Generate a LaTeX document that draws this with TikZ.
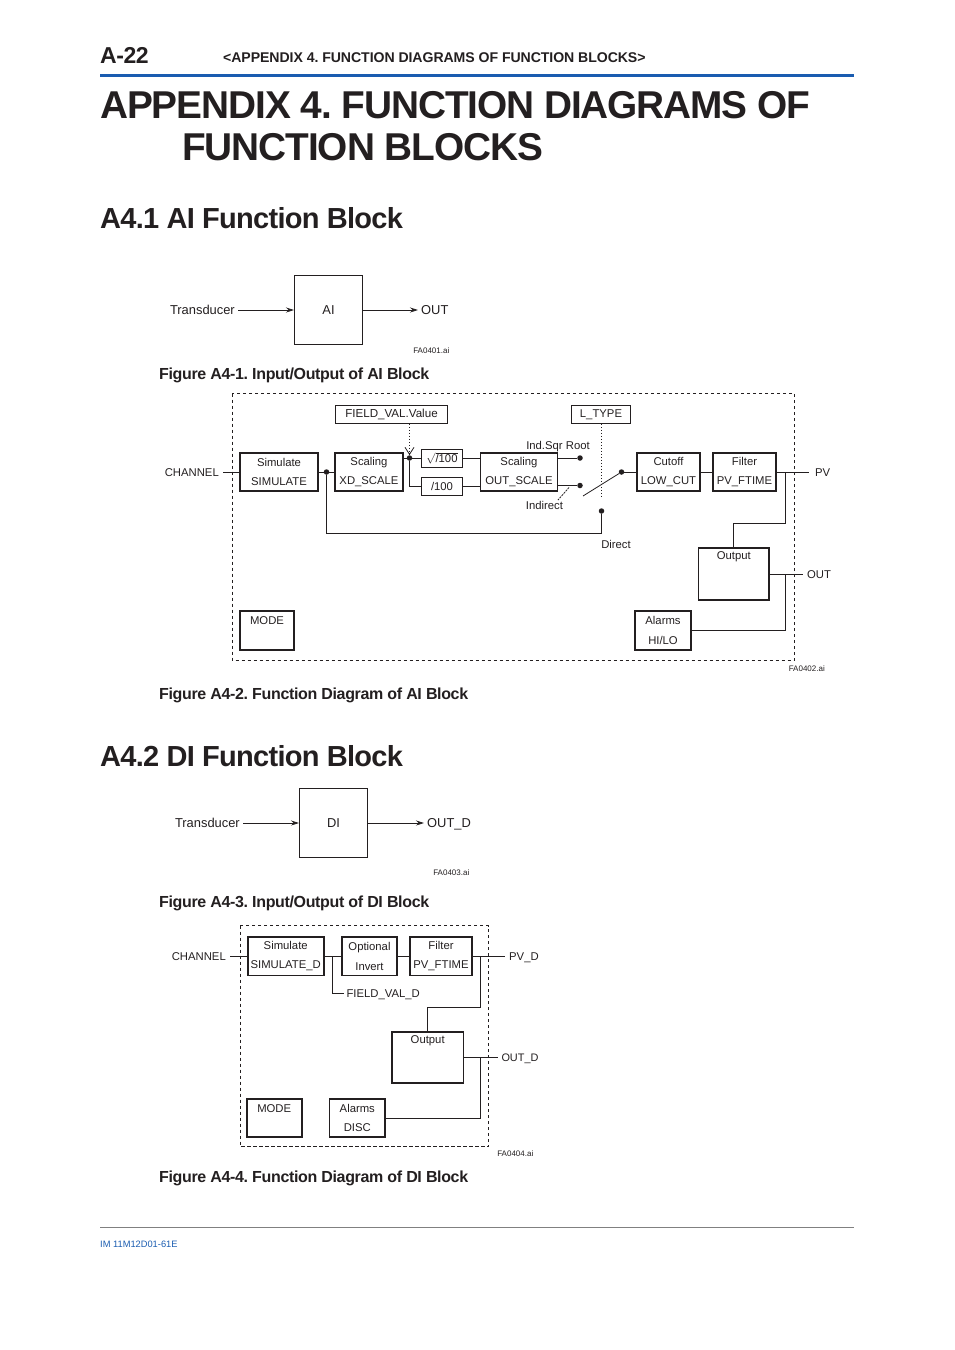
\documentclass[tikz,border=0pt]{standalone}
\usepackage{fontspec}
\setmainfont{Liberation Sans}
\usetikzlibrary{arrows.meta}
\definecolor{manualblue}{HTML}{1A5CB0}
\definecolor{ink}{HTML}{231F20}
\frenchspacing
\begin{document}
\begin{tikzpicture}[x=1pt,y=-1pt,color=ink]

		\tikzstyle{fblock}=[rectangle,
			draw=ink,line width=1.7pt,
			align=center,inner sep=0pt,
			font=\fontsize{11.3}{19.5}\selectfont]
		\tikzstyle{topblock}=[fblock,font=\fontsize{11.3}{18}\selectfont]
		\tikzstyle{iobox}=[rectangle,
			draw=ink,line width=1pt,
			minimum width=68pt,minimum height=68.5pt,
			font=\fontsize{12.9}{14}\selectfont]
		\tikzstyle{lbl}=[inner sep=4pt,
			text height=8pt,text depth=0pt,
			font=\fontsize{11.3}{13}\selectfont]
		\tikzstyle{iolbl}=[lbl,inner sep=3pt,font=\fontsize{12.9}{14}\selectfont]
		\tikzstyle{figno}=[inner sep=0pt,anchor=east,font=\fontsize{8}{9}\selectfont]
		\tikzstyle{caption}=[inner sep=0pt,anchor=west,
			font=\bfseries\fontsize{16}{18}\selectfont\addfontfeature{LetterSpace=-2.2}]
		\tikzstyle{heading}=[inner sep=0pt,anchor=west,
			font=\bfseries\fontsize{29}{32}\selectfont\addfontfeature{LetterSpace=-2.5}]
		\tikzstyle{pagetitle}=[inner sep=0pt,anchor=west,
			font=\bfseries\fontsize{38.8}{43}\selectfont\addfontfeature{LetterSpace=-2.8}]
		\tikzstyle{wire}=[draw=ink,line width=0.8pt]
		\tikzstyle{arrow}=[wire,->,>={Stealth[length=8pt,width=5pt]}]
		\tikzstyle{frame}=[draw=ink,line width=0.8pt,dash pattern=on 3.5pt off 2.5pt]
		\tikzstyle{hint}=[draw=ink,line width=0.8pt,dash pattern=on 1.5pt off 1.5pt]
		\tikzstyle{dot}=[circle,fill=ink,inner sep=0pt,minimum size=5.5pt]

		\useasboundingbox (0,0) rectangle (954,1350);

		% page head
		\node[inner sep=0pt,anchor=west,font=\bfseries\fontsize{23}{26}\selectfont\addfontfeature{LetterSpace=-2}] (pageno) at (100,55) {A-22};
		\node[inner sep=0pt,anchor=west,font=\bfseries\fontsize{14.1}{16}\selectfont\addfontfeature{LetterSpace=-0.5}] (pagehead) at (223,57.5) {<APPENDIX 4. FUNCTION DIAGRAMS OF FUNCTION BLOCKS>};
		\fill[manualblue] (100,73.5) rectangle (854,76.5);
		\node[pagetitle] (title-a) at (100,105) {APPENDIX 4. FUNCTION DIAGRAMS OF};
		\node[pagetitle] (title-b) at (182,147) {FUNCTION BLOCKS};

		\node[heading] (sec-ai) at (100,218) {A4.1 AI Function Block};
		\node[heading] (sec-di) at (100,756) {A4.2 DI Function Block};

		% AI input/output
		\node[iobox]	(ai)	at (328.5,310)	{AI};
		\node[iolbl,anchor=east]	(ai-in)	at (238,310)	{Transducer};
		\node[iolbl,anchor=west]	(ai-out)	at (418,310)	{OUT};
		\draw[arrow]	(ai-in)	--	(ai);
		\draw[arrow]	(ai)	--	(ai-out);
		\node[figno]	(fa1)	at (449.5,351)	{FA0401.ai};
		\node[caption]	(cap1)	at (159,375.5)	{Figure A4-1. Input/Output of AI Block};

		% AI function diagram
		\draw[frame] (232,393.5) rectangle (794.5,660);
		\node[fblock,minimum width=77.5pt,minimum height=38pt]	(simulate)	at (279,472)	{Simulate\\SIMULATE};
		\node[fblock,minimum width=68pt,minimum height=38pt]	(xdscale)	at (369,472)	{Scaling\\XD\_SCALE};
		\node[fblock,minimum width=77pt,minimum height=38pt]	(outscale)	at (519,472)	{Scaling\\OUT\_SCALE};
		\node[fblock,minimum width=63pt,minimum height=38pt]	(lowcut)	at (668.5,472)	{Cutoff\\LOW\_CUT};
		\node[fblock,minimum width=63pt,minimum height=38pt]	(ftime)	at (744.5,472)	{Filter\\PV\_FTIME};
		\node[fblock,line width=1pt,minimum width=41pt,minimum height=18pt]	(sqrtbox)	at (442,458)	{$\sqrt{\mbox{\rule{0pt}{8.5pt}/100}}$};
		\node[fblock,line width=1pt,minimum width=41pt,minimum height=18pt]	(linbox)	at (442,486)	{/100};
		\node[fblock,line width=1pt,minimum width=112pt,minimum height=17.5pt,font=\fontsize{11.6}{13}\selectfont]	(fieldval)	at (391.5,414.5)	{FIELD\_VAL.Value};
		\node[fblock,line width=1pt,minimum width=59pt,minimum height=17.5pt]	(ltype)	at (601,414.5)	{L\_TYPE};
		\node[topblock,minimum width=70.5pt,minimum height=52.5pt]	(output)	at (733.8,574)	{Output\\~\\~};
		\node[fblock,minimum width=55.5pt,minimum height=38.5pt]	(alarms)	at (663,630.5)	{Alarms\\HI/LO};
		\node[fblock,minimum width=54pt,minimum height=38.5pt]	(mode)	at (267,630.5)	{MODE\\~};

		\node[lbl,anchor=east]	(channel)	at (223,472)	{CHANNEL};
		\node[lbl,anchor=west]	(pv)	at (809,472)	{\hspace{2pt}PV};
		\node[lbl,anchor=west]	(out)	at (803,574)	{OUT};
		\node[lbl]	(sqrroot)	at (558,445.5)	{Ind.Sqr Root};
		\node[lbl]	(indirect)	at (544.5,505.5)	{Indirect};
		\node[lbl]	(direct)	at (616,544)	{Direct};
		\node[figno]	(fa2)	at (825,668.5)	{FA0402.ai};

		\node[dot]	(tap-sim)	at (326.5,472)	{};
		\node[dot]	(tap-xd)	at (409.5,458)	{};
		\node[dot]	(sw-sqrt)	at (580,458)	{};
		\node[dot]	(sw-ind)	at (580,485.5)	{};
		\node[dot]	(sw-dir)	at (601.5,511)	{};
		\node[dot]	(sw-pole)	at (621.5,472)	{};
		\coordinate	(sw-arm)	at (583,496);
		\coordinate	(ltype-end)	at (601.5,496.5);
		\coordinate	(ind-a)	at (569,487.5);
		\coordinate	(ind-b)	at (558,500);
		\coordinate	(pv-tap)	at (785.7,472);
		\coordinate	(out-tap)	at (785.7,574);

		\draw[wire]	(channel)	--	(simulate);
		\draw[wire]	(simulate)	--	(xdscale);
		\draw[wire]	(xdscale.east |- tap-xd)	--	(sqrtbox);
		\draw[wire]	(tap-xd)	|-	(linbox);
		\draw[wire]	(sqrtbox)	--	(sqrtbox -| outscale.west);
		\draw[wire]	(linbox)	--	(linbox -| outscale.west);
		\draw[wire]	(sw-sqrt -| outscale.east)	--	(sw-sqrt);
		\draw[wire]	(sw-ind -| outscale.east)	--	(sw-ind);
		\draw[wire]	(sw-pole)	--	(sw-arm);
		\draw[wire]	(sw-pole)	--	(lowcut);
		\draw[wire]	(lowcut)	--	(ftime);
		\draw[wire]	(ftime)	--	(pv);
		\draw[wire]	(tap-sim)	|-	(601.5,533.3)	--	(sw-dir);
		\draw[wire]	(pv-tap)	--	++(0,51.3)	-|	(output.north);
		\draw[wire]	(output)	--	(out);
		\draw[wire]	(out-tap)	|-	(alarms.east);
		\draw[hint,-{Straight Barb[length=7pt,width=9pt]}]	(fieldval.south -| tap-xd)	--	(tap-xd);
		\draw[hint]	(ltype.south -| ltype-end)	--	(ltype-end);
		\draw[wire,dash pattern=on 2pt off 1pt]	(ind-a)	--	(ind-b);

		\node[caption]	(cap2)	at (159,695)	{Figure A4-2. Function Diagram of AI Block};

		% DI input/output
		\node[iobox]	(di)	at (333.5,823)	{DI};
		\node[iolbl,anchor=east]	(di-in)	at (243,823)	{Transducer};
		\node[iolbl,anchor=west]	(di-out)	at (424,823)	{OUT\_D};
		\draw[arrow]	(di-in)	--	(di);
		\draw[arrow]	(di)	--	(di-out);
		\node[figno]	(fa3)	at (469.5,873)	{FA0403.ai};
		\node[caption]	(cap3)	at (159,903.5)	{Figure A4-3. Input/Output of DI Block};

		% DI function diagram
		\draw[frame] (240.3,925.7) rectangle (488.7,1146.7);
		\node[fblock,minimum width=76pt,minimum height=38.5pt]	(simulate-d)	at (285.7,956.2)	{Simulate\\SIMULATE\_D};
		\node[fblock,minimum width=55.5pt,minimum height=38.5pt]	(invert)	at (369.5,956.2)	{Optional\\Invert};
		\node[fblock,minimum width=62pt,minimum height=38.5pt]	(ftime-d)	at (441,956.2)	{Filter\\PV\_FTIME};
		\node[topblock,minimum width=71.5pt,minimum height=51.5pt]	(output-d)	at (427.7,1057.5)	{Output\\~\\~};
		\node[fblock,minimum width=55.5pt,minimum height=38.5pt]	(alarms-d)	at (357.3,1118)	{Alarms\\DISC};
		\node[fblock,minimum width=55pt,minimum height=38.5pt]	(mode-d)	at (274.2,1118)	{MODE\\~};

		\node[lbl,anchor=east]	(channel-d)	at (230,956.2)	{CHANNEL};
		\node[lbl,anchor=west]	(pv-d)	at (505,956.2)	{PV\_D};
		\node[lbl,anchor=west,inner sep=3pt,font=\fontsize{10.9}{13}\selectfont]	(out-d)	at (498.3,1057.5)	{OUT\_D};
		\node[lbl,anchor=west,inner sep=2pt]	(fieldval-d)	at (344.3,993.3)	{FIELD\_VAL\_D};
		\node[figno]	(fa4)	at (533.5,1153.5)	{FA0404.ai};

		\coordinate	(tap-d)	at (332.7,956.2);
		\coordinate	(pv-tap-d)	at (480,956.2);
		\coordinate	(out-tap-d)	at (480,1057.5);

		\draw[wire]	(channel-d)	--	(simulate-d);
		\draw[wire]	(simulate-d)	--	(invert);
		\draw[wire]	(invert)	--	(ftime-d);
		\draw[wire]	(ftime-d)	--	(pv-d);
		\draw[wire]	(tap-d)	|-	(fieldval-d);
		\draw[wire]	(pv-tap-d)	--	++(0,51.1)	-|	(output-d.north);
		\draw[wire]	(output-d)	--	(out-d);
		\draw[wire]	(out-tap-d)	|-	(alarms-d.east);

		\node[caption]	(cap4)	at (159,1178.5)	{Figure A4-4. Function Diagram of DI Block};

		% page foot
		\draw[draw=gray,line width=0.7pt]	(100,1227.5)	--	(854,1227.5);
		\node[inner sep=0pt,anchor=west,color=manualblue,font=\fontsize{9.3}{11}\selectfont]	(docno)	at (100,1244)	{IM 11M12D01-61E};

	\end{tikzpicture}
\end{document}
